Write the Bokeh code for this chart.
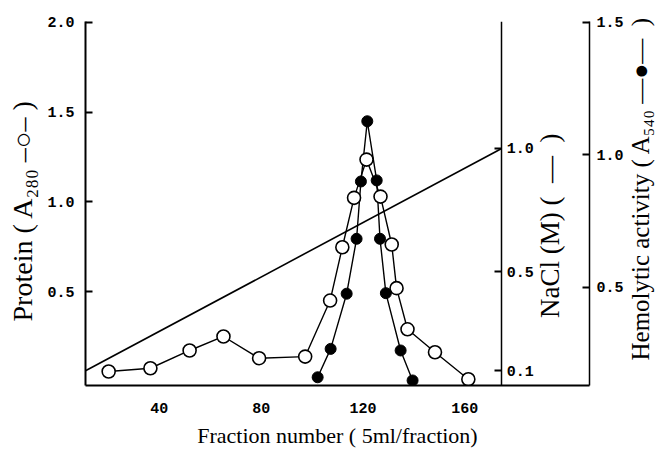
import math
from bokeh.plotting import figure
from bokeh.models import Range1d, LinearAxis, FixedTicker, PrintfTickFormatter
from bokeh.embed import file_html
from bokeh.resources import INLINE

# ---- data ----
protein_fraction = [20.1, 36.5, 51.9, 65.2, 79.2, 97.3, 107.1, 111.9, 116.5, 121.4,
                    126.9, 131.3, 133.2, 137.5, 148.3, 161.4]
protein_a280 = [0.056, 0.074, 0.173, 0.251, 0.130, 0.139, 0.451, 0.748, 1.023, 1.236,
                1.030, 0.763, 0.520, 0.291, 0.163, 0.013]
hemo_fraction = [102.2, 107.3, 113.6, 117.5, 119.2, 121.7, 125.4, 126.7, 129.0, 134.8, 139.5]
hemo_a540 = [0.161, 0.268, 0.476, 0.683, 0.899, 1.126, 0.903, 0.683, 0.478, 0.262, 0.149]
nacl_fraction = [11, 174.5]
nacl_molar = [0.1, 1.0]

x_ticks = [40, 80, 120, 160]
protein_ticks = [0.5, 1.0, 1.5, 2.0]
nacl_ticks = [0.1, 0.5, 1.0]
hemo_ticks = [0.5, 1.0, 1.5]

NBSP = "\u00a0"
x_label = "Fraction number ( 5ml/fraction)"
protein_label = "Protein ( A\u2082\u2088\u2080  \u2013\u25cb\u2013  )"
nacl_label = NBSP * 10 + "NaCl (M)  (" + NBSP + " \u2014 " + NBSP + ")"
hemo_label = NBSP * 4 + "Hemolytic activity ( A\u2085\u2084\u2080  \u2014\u25cf\u2014  " + NBSP + ")"

TICK_FONT = "Liberation Mono"
LABEL_FONT = "Liberation Serif"

p = figure(width=670, height=461,
           x_range=Range1d(11, 209), y_range=Range1d(-0.022, 2.005),
           output_backend="svg", toolbar_location=None,
           min_border_left=85, min_border_right=80,
           min_border_top=21, min_border_bottom=76)
p.extra_y_ranges = {"nacl": Range1d(0.0405, 1.514), "hemo": Range1d(0.13, 1.502)}
p.xgrid.visible = False
p.ygrid.visible = False
p.outline_line_color = None
p.background_fill_color = "white"


def style(ax, label_size, line_width=2):
    ax.axis_line_color = "black"
    ax.axis_line_width = line_width
    ax.major_tick_line_color = "black"
    ax.major_tick_line_width = 2
    ax.minor_tick_line_color = None
    ax.major_label_text_font = TICK_FONT
    ax.major_label_text_font_style = "bold"
    ax.major_label_text_font_size = "15px"
    ax.major_label_text_color = "black"
    ax.axis_label_text_font = LABEL_FONT
    ax.axis_label_text_font_style = "normal"
    ax.axis_label_text_font_size = label_size
    ax.axis_label_text_color = "black"


xa = p.xaxis[0]
xa.ticker = FixedTicker(ticks=x_ticks)
xa.axis_label = x_label
style(xa, "22px")
xa.major_tick_in = 0
xa.major_tick_out = 0
xa.major_label_standoff = 17
xa.axis_label_standoff = 7

ya = p.yaxis[0]
ya.ticker = FixedTicker(ticks=protein_ticks)
ya.formatter = PrintfTickFormatter(format="%.1f")
ya.axis_label = protein_label
style(ya, "28px")
ya.major_tick_in = 7
ya.major_tick_out = 0
ya.major_label_standoff = 11
ya.axis_label_standoff = 6

hemo_axis = LinearAxis(y_range_name="hemo", ticker=FixedTicker(ticks=hemo_ticks),
                       formatter=PrintfTickFormatter(format="%.1f"),
                       axis_label=hemo_label)
style(hemo_axis, "25px", 1.5)
hemo_axis.major_tick_in = 7
hemo_axis.major_tick_out = 0
hemo_axis.major_label_standoff = 7
hemo_axis.axis_label_standoff = 14
hemo_axis.axis_label_orientation = math.pi / 2
hemo_axis.axis_label_align = "start"
p.add_layout(hemo_axis, "right")

nacl_axis = LinearAxis(y_range_name="nacl", ticker=FixedTicker(ticks=nacl_ticks),
                       formatter=PrintfTickFormatter(format="%.1f"),
                       axis_label=nacl_label, fixed_location=nacl_fraction[-1])
style(nacl_axis, "27px", 1.5)
nacl_axis.major_tick_in = 7
nacl_axis.major_tick_out = 0
nacl_axis.major_label_standoff = 5
nacl_axis.axis_label_standoff = 13
nacl_axis.axis_label_orientation = math.pi / 2
nacl_axis.axis_label_align = "start"
p.add_layout(nacl_axis, "right")

# ---- data marks ----
p.line(nacl_fraction, nacl_molar, y_range_name="nacl", line_color="black", line_width=1.6)
p.line(protein_fraction, protein_a280, line_color="black", line_width=1.4)
p.line(hemo_fraction, hemo_a540, y_range_name="hemo", line_color="black", line_width=1.4)
p.scatter(protein_fraction, protein_a280, marker="circle", size=13,
          fill_color="white", line_color="black", line_width=1.6)
p.scatter(hemo_fraction, hemo_a540, y_range_name="hemo", marker="circle", size=11,
          fill_color="black", line_color="black", line_width=1)

open("out.html", "w").write(file_html(p, INLINE))
